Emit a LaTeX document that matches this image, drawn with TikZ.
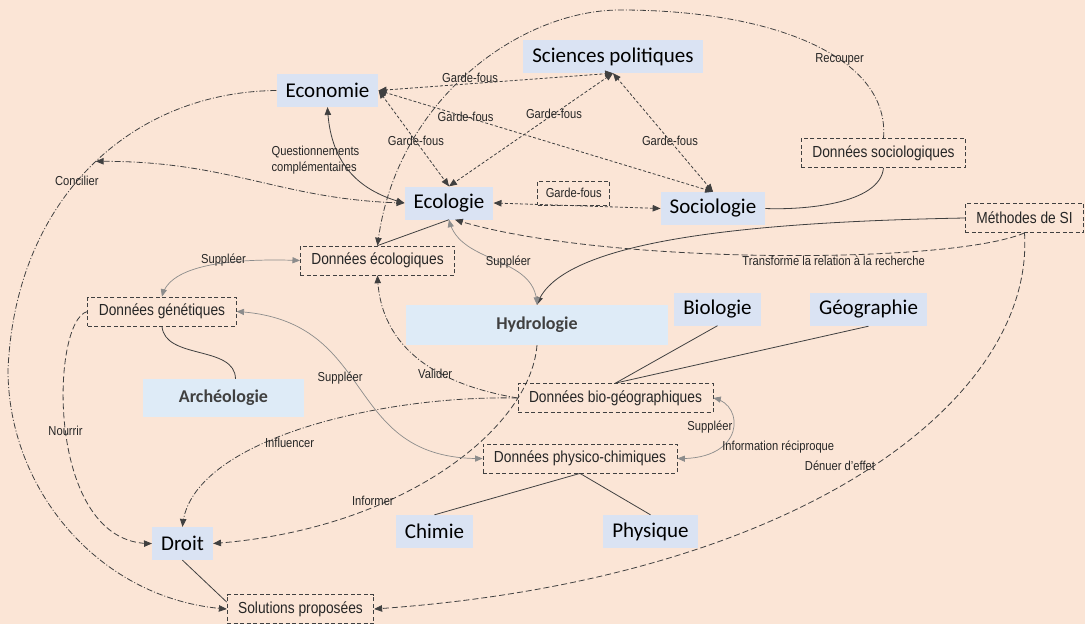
\documentclass[tikz,border=0pt]{standalone}
\usepackage{fontspec}
\newfontfamily\calib{Carlito}
\newfontfamily\arialn{Liberation Sans}[FakeStretch=0.86]
\usetikzlibrary{arrows}
\definecolor{fond}{HTML}{FBE5D6}
\definecolor{bleu}{HTML}{DAE3F3}
\definecolor{bleuclair}{HTML}{DEEBF7}
\definecolor{trait}{HTML}{404040}
\definecolor{gristrait}{HTML}{8C8C8C}

\begin{document}
\begin{tikzpicture}[x=1pt,y=-1pt,>=triangle 45,
        disc/.style={fill=bleu,inner xsep=9pt,inner ysep=0pt,minimum height=33pt,
            font=\calib\fontsize{21}{24}\selectfont},
        discb/.style={disc,fill=bleuclair,text=trait,font=\calib\bfseries\fontsize{18}{22}\selectfont},
        donnees/.style={draw=trait,line width=0.8pt,dash pattern=on 4pt off 2.5pt,
            inner xsep=11pt,inner ysep=0pt,minimum height=29pt,text=black!85,
            font=\arialn\fontsize{16}{18}\selectfont},
        lab/.style={font=\arialn\fontsize{13}{16}\selectfont,text=black!85,inner sep=1pt},
        gfbox/.style={lab,draw=trait,line width=0.8pt,dash pattern=on 4pt off 2.5pt,
            inner xsep=8pt,minimum height=24pt},
        lien/.style={draw=trait,line width=0.8pt},
        gardefou/.style={lien,<->,dash pattern=on 3pt off 2pt},
        tirets/.style={lien,dash pattern=on 6pt off 3pt},
        pointtirets/.style={lien,dash pattern=on 6pt off 2pt on 1pt off 2pt},
        suppleer/.style={<->,draw=gristrait,line width=0.7pt}]
                %fond
                \path[use as bounding box,fill=fond] (0,0) rectangle (1085,624);
                %disciplines
                \node[disc] (econ) at (327.5,90.5) {Economie};
                \node[disc] (scipo) at (613,56.5) {Sciences politiques};
                \node[disc] (ecol) at (449,203) {Ecologie};
                \node[disc] (socio) at (713,208.5) {Sociologie};
                \node[disc] (bio) at (717.5,309) {Biologie};
                \node[disc] (geo) at (868.5,309.5) {Géographie};
                \node[disc] (chimie) at (434.5,531.5) {Chimie};
                \node[disc] (phys) at (650.5,531.5) {Physique};
                \node[disc] (droit) at (182.5,543.5) {Droit};
                \node[discb,minimum width=262pt,minimum height=40pt] (hydro) at (537,325) {Hydrologie};
                \node[discb,minimum width=161pt,minimum height=38pt] (archeo) at (223.5,398) {Archéologie};
                %donnees
                \node[donnees] (dsoc) at (883.5,153) {Données sociologiques};
                \node[donnees] (meth) at (1024.5,218) {Méthodes de SI};
                \node[donnees] (decol) at (377.5,260.5) {Données écologiques};
                \node[donnees] (dgen) at (162,311.5) {Données génétiques};
                \node[donnees] (dbio) at (615.5,398) {Données bio-géographiques};
                \node[donnees] (dphys) at (580,458.5) {Données physico-chimiques};
                \node[donnees] (sol) at (300.5,609) {Solutions proposées};
                %garde-fous
                \draw[gardefou] (econ.east) -- node[lab,pos=.39,above] {Garde-fous} (scipo.south);
                \draw[gardefou] (econ.east) -- node[lab,pos=.53] {Garde-fous} (ecol.north);
                \draw[gardefou] (econ.east) -- node[lab,pos=.26] {Garde-fous} (socio.north);
                \draw[gardefou] (scipo.south) -- node[lab,pos=.36] {Garde-fous} (ecol.north);
                \draw[gardefou] (scipo.south) -- node[lab,pos=.57] {Garde-fous} (socio.north);
                \draw[gardefou] (ecol.east) -- node[gfbox,pos=.48,above] {Garde-fous} (socio.west);
                %traits pleins
                \draw[lien,<->] (ecol.west) .. controls (355,190) and (330,160) .. (econ.south)
                        node[lab,align=left,pos=.6,xshift=-26pt] {Questionnements\\complémentaires};
                \draw[lien] (dsoc.south) .. controls (880,205) and (800,210) .. (socio.east);
                \draw[lien] (ecol.south) -- (decol.north);
                \draw[lien,->] (meth.west) .. controls (750,222) and (560,240) .. (hydro.north);
                \draw[lien] (dgen.south) .. controls (165,360) and (235,345) .. ([xshift=12pt]archeo.north);
                \draw[lien] (droit.south) -- ([yshift=-8pt]sol.north west);
                \draw[lien] (bio.south) -- (dbio.north);
                \draw[lien] (geo.south) -- (dbio.north);
                \draw[lien] (dphys.south) -- (chimie.north);
                \draw[lien] (dphys.south) -- (phys.north);
                %tirets
                \draw[tirets,->] (meth.south) .. controls (950,265) and (600,265) .. ([xshift=6pt]ecol.south)
                        node[lab,pos=.4,below=-1pt] {Transforme la relation à la recherche};
                \draw[tirets,->] (meth.south) .. controls (1035,400) and (800,580) .. (sol.east)
                        node[lab,pos=.5,xshift=-23pt,yshift=7pt] {Dénuer d’effet};
                \draw[tirets,->] (hydro.south) .. controls (530,430) and (400,530) .. (droit.east)
                        node[lab,pos=.68,yshift=6pt] {Informer};
                \draw[tirets,->] (dgen.west) .. controls (50,320) and (45,545) .. (droit.west)
                        node[lab,pos=.5] {Nourrir};
                %points-tirets
                \draw[pointtirets,->] (econ.west) .. controls (130,92) and (15,200) .. (8,370)
                        coordinate[pos=.48] (conc)
                        .. controls (8,490) and (100,600) .. (sol.west);
                \draw[pointtirets,<->] (ecol.west) .. controls (280,200) and (230,160) .. (conc)
                        node[lab,pos=1,xshift=-19pt,yshift=-20pt] {Concilier};
                \draw[pointtirets,->] (dsoc.north) .. controls (890,60) and (780,10) .. (620,10)
                        node[lab,pos=.4] {Recouper}
                        .. controls (520,10) and (395,100) .. (decol.north);
                \draw[pointtirets,->] (dbio.west) .. controls (380,395) and (190,440) .. (droit.north)
                        node[lab,pos=.53,yshift=-10pt] {Influencer};
                \draw[pointtirets,->] (dbio.west) .. controls (440,385) and (380,350) .. (decol.south)
                        node[lab,pos=.3,anchor=south east] {Valider};
                %suppleer
                \draw[suppleer] (ecol.south) .. controls (460,265) and (535,255) .. (hydro.north)
                        node[lab,pos=.6,yshift=4pt] {Suppléer};
                \draw[suppleer] (decol.west) .. controls (230,258) and (170,265) .. (dgen.north)
                        node[lab,pos=.4,yshift=3pt] {Suppléer};
                \draw[suppleer] (dgen.east) .. controls (380,320) and (340,460) .. (dphys.west)
                        node[lab,pos=.45,xshift=-12pt] {Suppléer};
                \draw[suppleer] (dbio.east) .. controls (745,405) and (745,460) .. (dphys.east)
                        node[lab,pos=.45,anchor=east] {Suppléer}
                        node[lab,pos=.7,anchor=west] {Information réciproque};
\end{tikzpicture}
\end{document}
